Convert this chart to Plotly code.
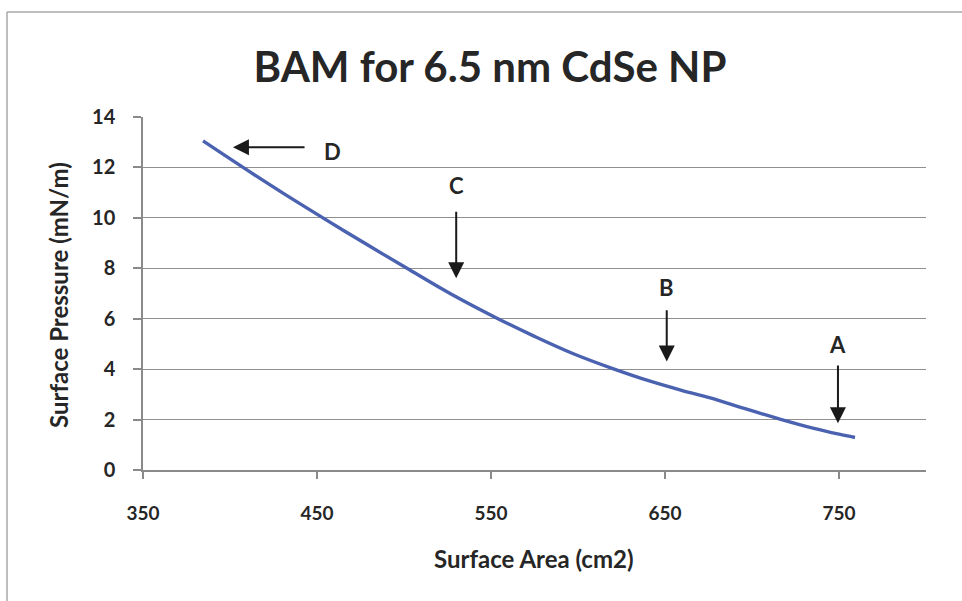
import plotly.graph_objects as go

# Data
area = [384.5, 407.5, 430, 453.4, 478, 501.7, 527, 554, 575, 597, 620, 641, 660, 676, 696, 716, 735, 750, 759.2]
pressure = [13.05, 12.0, 11.0, 10.0, 8.97, 8.0, 6.98, 6.0, 5.3, 4.62, 4.02, 3.53, 3.15, 2.86, 2.43, 2.02, 1.66, 1.42, 1.29]

x_ticks = [350, 450, 550, 650, 750]
y_ticks = [0, 2, 4, 6, 8, 10, 12, 14]

# Arrow annotations: label, label x, label y, tail x, tail y, head x, head y
arrow_labels = ["D", "C", "B", "A"]
label_x = [459, 530, 651, 749.4]
label_y = [12.65, 11.3, 7.25, 4.97]
tail_x = [443.7, 530, 651, 749.4]
tail_y = [12.8, 10.3, 6.4, 4.2]
head_x = [401.7, 530, 651, 749.4]
head_y = [12.8, 7.6, 4.3, 1.85]

FONT = "Lato"
TXT = "#262626"

fig = go.Figure()
fig.add_trace(go.Scatter(
    x=area, y=pressure, mode="lines",
    line=dict(color="#4a62b0", width=3.4, shape="spline", smoothing=1.0),
    showlegend=False, hoverinfo="skip",
))

annotations = []
for lab, lx, ly, tx, ty, hx, hy in zip(arrow_labels, label_x, label_y, tail_x, tail_y, head_x, head_y):
    annotations.append(dict(
        x=hx, y=hy, ax=tx, ay=ty, xref="x", yref="y", axref="x", ayref="y",
        text="", showarrow=True, arrowhead=2, arrowsize=1.6, arrowwidth=2,
        arrowcolor="#1a1a1a",
    ))
    annotations.append(dict(
        x=lx, y=ly, xref="x", yref="y", text="<b>" + lab + "</b>", showarrow=False,
        xanchor="center", yanchor="middle",
        font=dict(family=FONT, size=22, color=TXT),
    ))

annotations.append(dict(
    x=(534 - 143) / 783, y=(470 - 558) / 353, xref="paper", yref="paper",
    xanchor="center", yanchor="middle",
    text="<b>Surface Area (cm2)</b>", showarrow=False,
    font=dict(family=FONT, size=24, color=TXT),
))
annotations.append(dict(
    x=(58 - 143) / 783, y=(470 - 295) / 353, xref="paper", yref="paper",
    xanchor="center", yanchor="middle",
    text="<b>Surface Pressure (mN/m)</b>", showarrow=False, textangle=-90,
    font=dict(family=FONT, size=24, color=TXT),
))

shapes = [
    dict(type="line", xref="paper", yref="paper",
         x0=(7 - 143) / 783, x1=(962 - 143) / 783, y0=(470 - 12) / 353, y1=(470 - 12) / 353,
         line=dict(color="#a8a8a8", width=1.5)),
    dict(type="line", xref="paper", yref="paper",
         x0=(7 - 143) / 783, x1=(7 - 143) / 783, y0=(470 - 12) / 353, y1=(470 - 601) / 353,
         line=dict(color="#a8a8a8", width=1.5)),
]

fig.update_layout(
    width=962, height=601,
    margin=dict(l=143, r=36, t=117, b=131),
    paper_bgcolor="white", plot_bgcolor="white",
    title=dict(text="<b>BAM for 6.5 nm CdSe NP</b>", x=490 / 962, xanchor="center",
               y=1 - 67 / 601, yanchor="middle", yref="container",
               font=dict(family=FONT, size=42, color=TXT)),
    annotations=annotations, shapes=shapes,
)
fig.update_xaxes(
    range=[350, 800], tickvals=x_ticks, ticktext=["<b>%d</b>" % v for v in x_ticks],
    showgrid=False, zeroline=False, showline=True, linecolor="#8a8a8a", linewidth=1.5,
    ticks="outside", ticklen=7, tickcolor="#8a8a8a", tickwidth=1.5,
    ticklabelstandoff=18,
    tickfont=dict(family=FONT, size=19, color=TXT),
)
fig.update_yaxes(
    range=[0, 14], tickvals=y_ticks, ticktext=["<b>%d</b>" % v for v in y_ticks],
    showgrid=True, gridcolor="#8f8f8f", gridwidth=1.2, zeroline=False,
    showline=True, linecolor="#8a8a8a", linewidth=1.5,
    ticks="outside", ticklen=8, tickcolor="#8a8a8a", tickwidth=1.5,
    ticklabelstandoff=14,
    tickfont=dict(family=FONT, size=20, color=TXT),
)

fig.write_html("out.html")
